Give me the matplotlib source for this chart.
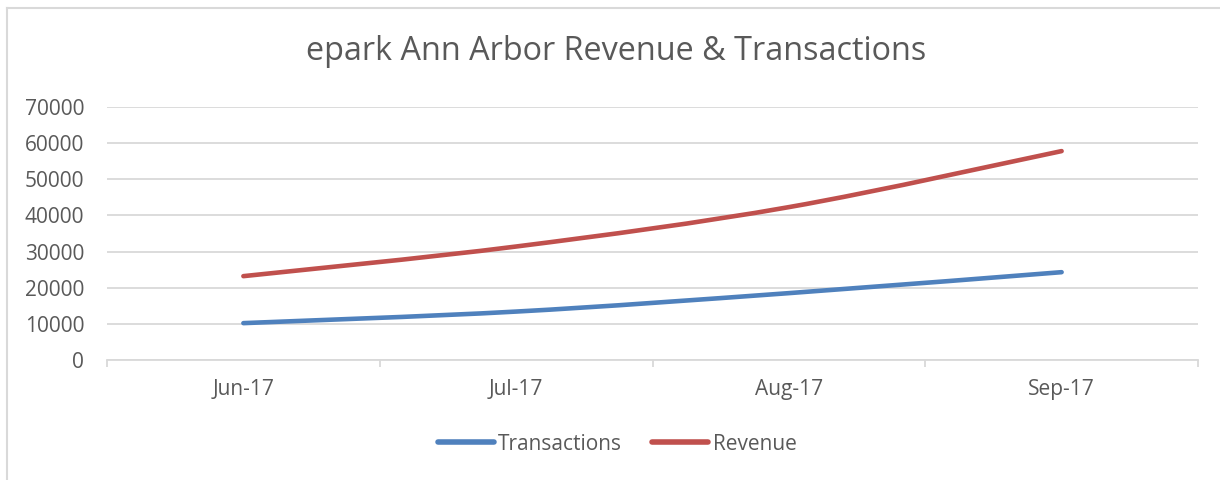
import numpy as np
import matplotlib
matplotlib.use("Agg")
import matplotlib.pyplot as plt
from matplotlib.path import Path
from matplotlib.patches import PathPatch
from matplotlib.lines import Line2D

months = ["Jun-17", "Jul-17", "Aug-17", "Sep-17"]
transactions = [10200, 13400, 18500, 24300]
revenue = [23200, 31400, 42300, 57800]

BLUE = "#4F81BD"
RED = "#C0504D"
GREY = "#595959"
GRID = "#D9D9D9"

plt.rcParams["font.family"] = ["Open Sans", "DejaVu Sans"]


def smooth_path(x, y):
    # excel-style smoothed line: catmull-rom turned into cubic bezier pieces
    x = np.asarray(x, float)
    y = np.asarray(y, float)
    px = np.concatenate([[x[0]], x, [x[-1]]])
    py = np.concatenate([[y[0]], y, [y[-1]]])
    verts = [(x[0], y[0])]
    codes = [Path.MOVETO]
    for i in range(1, len(px) - 2):
        c1 = (px[i] + (px[i + 1] - px[i - 1]) / 6, py[i] + (py[i + 1] - py[i - 1]) / 6)
        c2 = (px[i + 1] - (px[i + 2] - px[i]) / 6, py[i + 1] - (py[i + 2] - py[i]) / 6)
        verts += [c1, c2, (px[i + 1], py[i + 1])]
        codes += [Path.CURVE4] * 3
    return Path(verts, codes)


fig = plt.figure(figsize=(12.2, 4.8), dpi=100)
ax = fig.add_axes([107 / 1220, 1 - 360 / 480, 1091 / 1220, 253 / 480])

xs = np.arange(len(months))
for vals, col in [(transactions, BLUE), (revenue, RED)]:
    ax.add_patch(PathPatch(smooth_path(xs, vals), facecolor="none", edgecolor=col,
                           lw=3.3, capstyle="round", joinstyle="round", zorder=3))

ax.set_xlim(-0.5, len(months) - 0.5)
ax.set_ylim(0, 70000)
ax.set_yticks(np.arange(0, 70001, 10000))
ax.yaxis.grid(True, color=GRID, lw=1.3)
ax.set_axisbelow(True)
ax.tick_params(axis="y", length=0, pad=16.5, labelsize=15, labelcolor=GREY)

ax.set_xticks(xs)
ax.set_xticklabels(months)
ax.set_xticks(np.arange(-0.5, len(months)), minor=True)
ax.tick_params(axis="x", which="major", length=0, pad=14, labelsize=15, labelcolor=GREY)
ax.tick_params(axis="x", which="minor", length=5, width=1.3, color=GRID)

for s in ["top", "right", "left"]:
    ax.spines[s].set_visible(False)
ax.spines["bottom"].set_color(GRID)
ax.spines["bottom"].set_linewidth(1.3)

fig.text(616 / 1220, 1 - 52 / 480, "epark Ann Arbor Revenue & Transactions",
         ha="center", va="center", fontsize=23.3, color=GREY)

handles = [Line2D([], [], color=BLUE, lw=4, solid_capstyle="round"),
           Line2D([], [], color=RED, lw=4, solid_capstyle="round")]
fig.legend(handles, ["Transactions", "Revenue"], loc="center",
           bbox_to_anchor=(617 / 1220, 1 - 444 / 480), ncol=2, frameon=False,
           fontsize=15, labelcolor=GREY, handlelength=2.7, handletextpad=0.2,
           columnspacing=1.45)

# chart area border
fig.add_artist(Line2D([7 / 1220, 7 / 1220], [0, 1 - 8 / 480], transform=fig.transFigure,
                      color=GRID, lw=1.5))
fig.add_artist(Line2D([7 / 1220, 1], [1 - 8 / 480, 1 - 8 / 480], transform=fig.transFigure,
                      color=GRID, lw=1.5))

fig.savefig("out.png", dpi=100)
